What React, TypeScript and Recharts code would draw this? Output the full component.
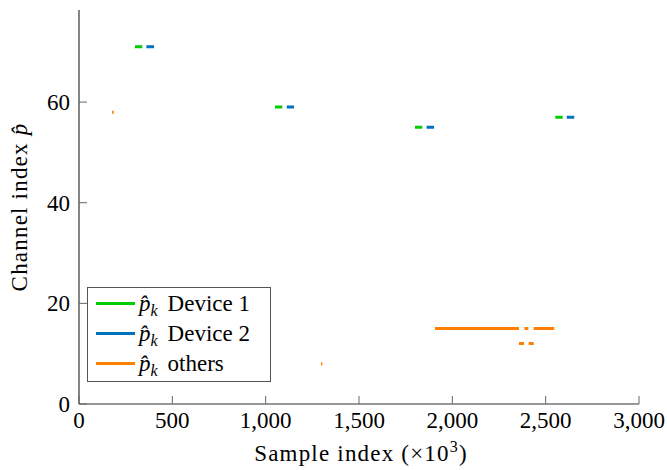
import React from 'react';
import { LineChart, Line, XAxis, YAxis, Legend } from 'recharts';

const xTicks = [0, 500, 1000, 1500, 2000, 2500, 3000];
const yTicks = [0, 20, 40, 60];

const device1Start = [300, 1050, 1800, 2552];
const device1End = [339, 1089, 1839, 2591];
const device1Channel = [71, 59, 55, 57];

const device2Start = [361, 1113, 1862, 2613];
const device2End = [402, 1152, 1902, 2653];
const device2Channel = [71, 59, 55, 57];

const othersStart = [177, 1296, 1907, 2357, 2386, 2409, 2436];
const othersEnd = [186, 1304, 2357, 2384, 2407, 2436, 2546];
const othersChannel = [58, 8, 15, 12, 15, 12, 15];

const seriesNames = ['Device 1', 'Device 2', 'others'];
const seriesColors = ['#00cc00', '#0072bd', '#ff8000'];

type Pt = { x: number; y: number | null };

function buildSegments(starts: number[], ends: number[], chans: number[]): Pt[] {
  const pts: Pt[] = [];
  starts.forEach((s, i) => {
    if (i > 0) pts.push({ x: (ends[i - 1] + s) / 2, y: null });
    pts.push({ x: s, y: chans[i] });
    pts.push({ x: ends[i], y: chans[i] });
  });
  return pts;
}

const device1Data = buildSegments(device1Start, device1End, device1Channel);
const device2Data = buildSegments(device2Start, device2End, device2Channel);
const othersData = buildSegments(othersStart, othersEnd, othersChannel);

const FONT = "'Liberation Serif'";
const FS = 23;
const TICK_LEN = 8;
const TICK_COLOR = '#666';
const FRAME = '#333';

const CSS = `
html, body { margin: 0 !important; padding: 0; overflow: hidden; }
#root .serifTxt, #root .serifTxt * { font-family: 'Liberation Serif', serif !important; }
#root text.serifTxt, #root .serifBox { font-size: 23px !important; }
`;

const fmtX = (v: number) => v.toLocaleString('en-US');

const XTickBottom = (props: any) => {
  const { x, y, payload } = props;
  return (
    <g>
      <line x1={x} x2={x} y1={y} y2={y - TICK_LEN} stroke={TICK_COLOR} strokeWidth={1} />
      <text className="serifTxt" x={x} y={y + 24} textAnchor="middle" style={{ fontFamily: FONT, fontSize: FS }} fill="#000">
        {fmtX(payload.value)}
      </text>
    </g>
  );
};

const XTickTop = (props: any) => {
  const { x, y } = props;
  return <line x1={x} x2={x} y1={y} y2={y + TICK_LEN} stroke={TICK_COLOR} strokeWidth={1} />;
};

const YTickLeft = (props: any) => {
  const { x, y, payload } = props;
  return (
    <g>
      <line x1={x} x2={x + TICK_LEN} y1={y} y2={y} stroke={TICK_COLOR} strokeWidth={1} />
      <text className="serifTxt" x={x - 9} y={y} dy="0.34em" textAnchor="end" style={{ fontFamily: FONT, fontSize: FS }} fill="#000">
        {payload.value}
      </text>
    </g>
  );
};

const YTickRight = (props: any) => {
  const { x, y } = props;
  return <line x1={x} x2={x - TICK_LEN} y1={y} y2={y} stroke={TICK_COLOR} strokeWidth={1} />;
};

const XLabel = (props: any) => {
  const vb = props.viewBox || {};
  const cx = vb.x + vb.width / 2 + 2;
  return (
    <text
      className="serifTxt"
      x={cx}
      y={vb.y + 57}
      textAnchor="middle"
      style={{ fontFamily: FONT, fontSize: FS, letterSpacing: 1.2 }}
      fill="#000"
    >
      Sample index (×10
      <tspan dy={-9} style={{ fontSize: 16 }}>3</tspan>
      <tspan dy={9}>)</tspan>
    </text>
  );
};

const YLabel = (props: any) => {
  const vb = props.viewBox || {};
  const cy = vb.y + vb.height / 2;
  const x = 27;
  return (
    <text
      className="serifTxt"
      x={x}
      y={cy}
      transform={`rotate(-90 ${x} ${cy})`}
      textAnchor="middle"
      style={{ fontFamily: FONT, fontSize: FS, letterSpacing: 1.2 }}
      fill="#000"
    >
      Channel index <tspan fontStyle="italic">p̂</tspan>
    </text>
  );
};

const renderLegend = () => (
  <div
    className="serifTxt serifBox"
    style={{
      border: '1px solid #555',
      background: '#fff',
      width: 174,
      height: 93,
      fontFamily: FONT,
      fontSize: FS,
      color: '#000',
      paddingLeft: 8,
      paddingTop: 0,
      boxSizing: 'content-box',
      lineHeight: 1,
    }}
  >
    {seriesNames.map((name, i) => (
      <div key={name} style={{ display: 'flex', alignItems: 'center', height: 30, whiteSpace: 'nowrap' }}>
        <span style={{ display: 'inline-block', width: 39, height: 3, background: seriesColors[i], marginRight: 4 }} />
        <span>
          <i>p̂</i>
          <i style={{ fontSize: 16, position: 'relative', top: 5 }}>k</i>
          <span style={{ marginLeft: 10 }}>{name}</span>
        </span>
      </div>
    ))}
  </div>
);

export default function App() {
  return (
    <div style={{ width: 667, height: 470 }}>
      <style>{CSS}</style>
      <LineChart width={667} height={470} margin={{ top: 10, right: 28, bottom: 0, left: 0 }}>
        <XAxis
          xAxisId={0}
          dataKey="x"
          type="number"
          domain={[0, 3000]}
          ticks={xTicks}
          allowDataOverflow
          height={66}
          tickLine={false}
          tickSize={0}
          tickMargin={0}
          tick={<XTickBottom />}
          axisLine={{ stroke: FRAME, strokeWidth: 1.2 }}
          label={<XLabel />}
        />
        <XAxis
          xAxisId="top"
          orientation="top"
          type="number"
          domain={[0, 3000]}
          ticks={xTicks}
          allowDataOverflow
          height={0}
          tickLine={false}
          tickSize={0}
          tickMargin={0}
          tick={<XTickTop />}
          axisLine={{ stroke: FRAME, strokeWidth: 1.2 }}
        />
        <YAxis
          yAxisId={0}
          type="number"
          domain={[0, 78.3]}
          ticks={yTicks}
          allowDataOverflow
          width={79}
          tickLine={false}
          tickSize={0}
          tickMargin={0}
          tick={<YTickLeft />}
          axisLine={{ stroke: FRAME, strokeWidth: 1.2 }}
          label={<YLabel />}
        />
        <YAxis
          yAxisId="right"
          orientation="right"
          type="number"
          domain={[0, 78.3]}
          ticks={yTicks}
          allowDataOverflow
          width={0}
          tickLine={false}
          tickSize={0}
          tickMargin={0}
          tick={<YTickRight />}
          axisLine={{ stroke: FRAME, strokeWidth: 1.2 }}
        />
        <Legend
          layout="vertical"
          align="center"
          verticalAlign="middle"
          content={renderLegend}
          wrapperStyle={{ left: 87, top: 287, right: 'auto', bottom: 'auto', width: 190, height: 95, margin: 0 }}
        />
        <Line
          data={device1Data}
          dataKey="y"
          name="Device 1"
          stroke={seriesColors[0]}
          strokeWidth={3}
          dot={false}
          activeDot={false}
          connectNulls={false}
          isAnimationActive={false}
          strokeLinecap="butt"
        />
        <Line
          data={device2Data}
          dataKey="y"
          name="Device 2"
          stroke={seriesColors[1]}
          strokeWidth={3}
          dot={false}
          activeDot={false}
          connectNulls={false}
          isAnimationActive={false}
          strokeLinecap="butt"
        />
        <Line
          data={othersData}
          dataKey="y"
          name="others"
          stroke={seriesColors[2]}
          strokeWidth={3}
          dot={false}
          activeDot={false}
          connectNulls={false}
          isAnimationActive={false}
          strokeLinecap="butt"
        />
      </LineChart>
    </div>
  );
}
